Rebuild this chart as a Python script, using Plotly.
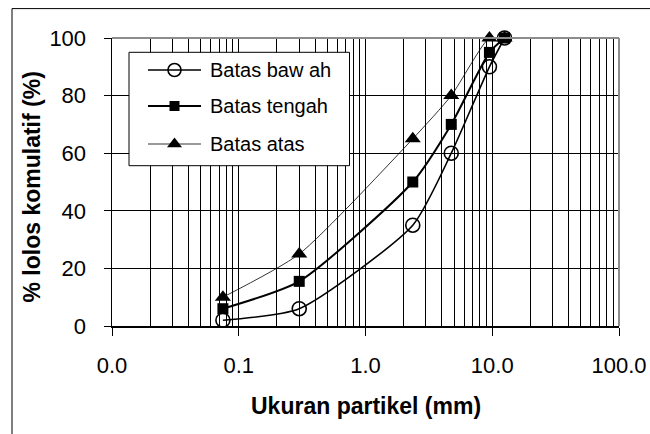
import plotly.graph_objects as go

# ---- data ----
sizes = [0.075, 0.3, 2.36, 4.75, 9.5, 12.5]
batas_bawah = [2, 6, 35, 60, 90, 100]
batas_tengah = [6, 15.5, 50, 70, 95, 100]
batas_atas = [10, 25, 65, 80, 100, 100]
series_names = ["Batas baw ah", "Batas tengah", "Batas atas"]
x_tickvals = [0.01, 0.1, 1, 10, 100]
x_ticktext = ["0.0", "0.1", "1.0", "10.0", "100.0"]
y_tickvals = [0, 20, 40, 60, 80, 100]

FONT = "Liberation Sans, Arial, sans-serif"

# plot area in screen pixels (page margin removed below)
L, R, T, B = 112, 619, 38, 326
W, H = 650, 434

def px(x):
    return (x - L) / (R - L)

def py(y):
    return (B - y) / (B - T)

styles = [
    dict(symbol="circle-open", size=14, lw=1.6, mlw=1.6),
    dict(symbol="square", size=11, lw=2.0, mlw=0),
    dict(symbol="triangle-up", size=14, lw=0.8, mlw=0),
]
values = [batas_bawah, batas_tengah, batas_atas]

fig = go.Figure()
for name, vals, st in zip(series_names, values, styles):
    fig.add_trace(go.Scatter(
        x=sizes, y=vals, name=name, mode="lines+markers",
        line=dict(color="black", width=st["lw"], shape="spline", smoothing=0.6),
        marker=dict(symbol=st["symbol"], size=st["size"], color="black",
                    line=dict(color="black", width=st["mlw"])),
        showlegend=False, cliponaxis=False,
    ))

# manual legend on a hidden overlay axis measured in screen pixels
bx0, bx1, by0, by1 = 129, 349.5, 52.3, 165.7
fig.add_trace(go.Scatter(
    x=[bx0, bx1, bx1, bx0, bx0], y=[by0, by0, by1, by1, by0], mode="lines",
    xaxis="x2", yaxis="y2", fill="toself", fillcolor="white",
    line=dict(color="black", width=1), showlegend=False, hoverinfo="skip",
))
leg_rows = [70, 106, 144]
for name, st, yrow in zip(series_names, styles, leg_rows):
    fig.add_trace(go.Scatter(
        x=[148, 201], y=[yrow, yrow], mode="lines", xaxis="x2", yaxis="y2",
        line=dict(color="black", width=st["lw"]), showlegend=False, hoverinfo="skip",
    ))
    fig.add_trace(go.Scatter(
        x=[174.5], y=[yrow], mode="markers", xaxis="x2", yaxis="y2",
        marker=dict(symbol=st["symbol"], size=st["size"] - 1, color="black",
                    line=dict(color="black", width=st["mlw"])),
        showlegend=False, hoverinfo="skip",
    ))
    fig.add_annotation(x=208, y=yrow, xref="x2", yref="y2", text=name,
                       showarrow=False, xanchor="left", yanchor="middle",
                       font=dict(family=FONT, size=20, color="black"))

# plot border (gray top/right)
fig.add_shape(type="line", xref="paper", yref="paper", x0=0, x1=1, y0=1, y1=1,
              line=dict(color="#8c8c8c", width=2), layer="above")
fig.add_shape(type="line", xref="paper", yref="paper", x0=1, x1=1, y0=0, y1=1,
              line=dict(color="#8c8c8c", width=2), layer="above")

# outer chart frame
fig.add_shape(type="rect", xref="paper", yref="paper",
              x0=px(12), x1=px(700), y0=py(500), y1=py(8.6),
              line=dict(color="black", width=1), fillcolor="rgba(0,0,0,0)", layer="below")

fig.update_layout(
    width=W, height=H,
    margin=dict(l=L, r=W - R, t=T, b=H - B, pad=0),
    paper_bgcolor="white", plot_bgcolor="white",
    font=dict(family=FONT, color="black"),
    hovermode=False,
    xaxis=dict(
        type="log", range=[-2, 2], automargin=False,
        tickmode="array", tickvals=x_tickvals, ticktext=x_ticktext,
        ticks="outside", ticklen=8, tickcolor="black", tickwidth=1,
        tickfont=dict(size=22, family=FONT, color="black"),
        showgrid=True, gridcolor="black", gridwidth=1,
        minor=dict(dtick="D1", showgrid=True, gridcolor="black", gridwidth=1, ticks=""),
        showline=True, linecolor="black", linewidth=1.5,
        zeroline=False, ticklabelstandoff=11,
    ),
    yaxis=dict(
        range=[0, 100], tickmode="array", tickvals=y_tickvals, automargin=False,
        ticks="outside", ticklen=7, tickcolor="black", tickwidth=1,
        tickfont=dict(size=22, family=FONT, color="black"),
        showgrid=True, gridcolor="black", gridwidth=1,
        showline=True, linecolor="black", linewidth=1.5,
        zeroline=False, ticklabelstandoff=13,
    ),
    xaxis2=dict(overlaying="x", anchor="y2", range=[L, R], visible=False, fixedrange=True),
    yaxis2=dict(overlaying="y", anchor="x2", range=[B, T], visible=False, fixedrange=True),
    showlegend=False,
)

fig.add_annotation(x=0.5, y=py(406), xref="paper", yref="paper",
                   text="<b>Ukuran partikel (mm)</b>", showarrow=False,
                   xanchor="center", yanchor="middle",
                   font=dict(family=FONT, size=23, color="black"))
fig.add_annotation(x=px(31), y=py(187.5), xref="paper", yref="paper",
                   text="<b>% lolos komulatif (%)</b>", showarrow=False, textangle=-90,
                   xanchor="center", yanchor="middle",
                   font=dict(family=FONT, size=23, color="black"))

fig.write_html(
    "out.html",
    config={"displayModeBar": False, "staticPlot": True},
    post_script="document.body.style.margin='0';document.body.style.overflow='hidden';",
)
